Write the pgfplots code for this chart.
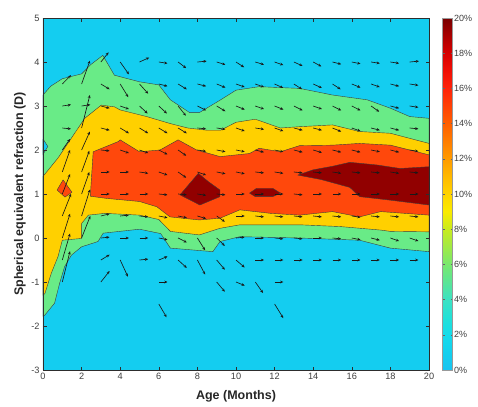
\documentclass[border=0pt]{standalone}
\usepackage{fontspec}
\setmainfont{Liberation Sans}
\usepackage{pgfplots}
\usepackage{pgfplotstable}
\pgfplotsset{compat=1.18}
\usetikzlibrary{arrows.meta}
\definecolor{cbg}{RGB}{20,205,240}
\definecolor{cgreen}{RGB}{105,235,135}
\definecolor{cyellow}{RGB}{255,208,0}
\definecolor{corange}{RGB}{255,72,12}
\definecolor{cdark}{RGB}{145,0,0}
\definecolor{edgec}{RGB}{60,60,60}
\definecolor{axgray}{RGB}{45,45,45}

\pgfplotstableread{
x y u v
3 4 0.40 0.22
4 4 0.45 -0.28
5 4 0.50 0.10
6 4 0.45 -0.03
7 4 0.42 -0.14
8 4 0.48 0.02
9 4 0.45 -0.06
10 4 0.42 -0.12
11 4 0.45 -0.06
12 4 0.45 -0.07
13 4 0.45 -0.09
14 4 0.42 -0.10
15 4 0.45 -0.05
16 4 0.45 -0.04
17 4 0.45 -0.03
18 4 0.45 -0.03
19 4 0.48 0.02
1 3.5 0.45 0.20
2 3.5 0.43 0.53
3 3.5 0.45 -0.12
4 3.5 0.42 -0.30
5 3.5 0.45 -0.22
6 3.5 0.45 -0.05
7 3.5 0.45 -0.12
8 3.5 0.45 -0.05
9 3.5 0.45 -0.08
10 3.5 0.45 -0.07
11 3.5 0.45 -0.07
12 3.5 0.45 -0.09
13 3.5 0.42 -0.12
14 3.5 0.45 -0.09
15 3.5 0.42 -0.12
16 3.5 0.45 -0.08
17 3.5 0.45 -0.07
18 3.5 0.45 -0.05
19 3.5 0.45 -0.03
1 3 0.45 0.03
2 3 0.45 0.03
3 3 0.45 -0.05
4 3 0.45 -0.07
5 3 0.42 -0.17
6 3 0.42 -0.17
7 3 0.40 -0.22
8 3 0.45 -0.10
9 3 0.45 -0.12
10 3 0.45 -0.08
11 3 0.45 -0.07
12 3 0.45 -0.08
13 3 0.45 -0.10
14 3 0.45 -0.07
15 3 0.45 -0.10
16 3 0.45 -0.10
17 3 0.42 -0.13
18 3 0.45 -0.05
19 3 0.45 -0.03
1 2.5 0.45 -0.02
2 2.5 0.43 0.75
3 2.5 0.45 -0.05
4 2.5 0.45 -0.12
5 2.5 0.45 -0.12
6 2.5 0.45 -0.12
7 2.5 0.45 -0.12
8 2.5 0.45 -0.02
9 2.5 0.45 -0.03
10 2.5 0.45 -0.07
11 2.5 0.45 -0.03
12 2.5 0.45 -0.07
13 2.5 0.45 -0.05
14 2.5 0.45 -0.05
15 2.5 0.45 -0.08
16 2.5 0.45 -0.07
17 2.5 0.45 -0.05
18 2.5 0.45 -0.05
19 2.5 0.45 -0.02
1 2 0.40 0.25
2 2 0.43 0.42
3 2 0.45 -0.02
4 2 0.45 -0.07
5 2 0.45 -0.07
6 2 0.45 -0.10
7 2 0.42 -0.13
8 2 0.45 -0.03
9 2 0.45 -0.04
10 2 0.45 -0.04
11 2 0.45 -0.05
12 2 0.45 -0.04
13 2 0.45 -0.05
14 2 0.45 -0.06
15 2 0.45 -0.05
16 2 0.45 -0.05
17 2 0.45 -0.04
18 2 0.45 -0.05
19 2 0.45 -0.03
1 1.5 0.40 0.50
2 1.5 0.40 0.48
3 1.5 0.45 0.00
4 1.5 0.45 0.00
5 1.5 0.45 -0.03
6 1.5 0.45 -0.07
7 1.5 0.42 -0.13
8 1.5 0.45 -0.07
9 1.5 0.45 -0.04
10 1.5 0.45 -0.04
11 1.5 0.45 -0.02
12 1.5 0.45 -0.03
13 1.5 0.45 -0.02
14 1.5 0.45 -0.02
15 1.5 0.45 -0.03
16 1.5 0.45 -0.02
17 1.5 0.45 -0.02
18 1.5 0.45 -0.03
19 1.5 0.45 -0.02
1 1 0.40 0.45
2 1 0.40 0.50
3 1 0.45 0.00
4 1 0.45 0.00
5 1 0.45 0.00
6 1 0.45 -0.02
7 1 0.45 -0.02
8 1 0.45 -0.03
9 1 0.45 -0.02
10 1 0.45 0.00
11 1 0.45 0.00
12 1 0.45 0.00
13 1 0.45 -0.02
14 1 0.45 0.00
15 1 0.45 0.00
16 1 0.45 0.00
17 1 0.45 0.00
18 1 0.45 0.00
19 1 0.45 0.00
1 0.5 0.45 0.50
2 0.5 0.43 0.60
3 0.5 0.45 0.05
4 0.5 0.45 0.02
5 0.5 0.45 -0.02
6 0.5 0.45 -0.04
7 0.5 0.45 -0.04
8 0.5 0.45 -0.06
9 0.5 0.42 -0.13
10 0.5 0.45 0.00
11 0.5 0.45 -0.02
12 0.5 0.45 -0.02
13 0.5 0.45 -0.02
14 0.5 0.45 -0.02
15 0.5 0.45 -0.02
16 0.5 0.45 -0.03
17 0.5 0.45 -0.02
18 0.5 0.45 -0.02
19 0.5 0.45 -0.02
1 0 0.40 0.55
2 0 0.45 0.50
3 0 0.45 0.02
4 0 0.45 0.00
5 0 0.45 0.00
6 0 0.45 -0.04
7 0 0.45 -0.10
8 0 0.40 -0.28
9 0 0.42 -0.18
10 0 0.45 0.02
11 0 0.45 0.00
12 0 0.45 -0.02
13 0 0.45 -0.02
14 0 0.45 0.00
15 0 0.45 -0.02
16 0 0.45 -0.04
17 0 0.45 -0.05
18 0 0.45 -0.07
19 0 0.45 -0.07
1 -0.5 0.40 0.60
3 -0.5 0.45 0.12
4 -0.5 0.40 -0.38
5 -0.5 0.45 0.02
6 -0.5 0.45 0.08
7 -0.5 0.45 -0.18
8 -0.5 0.40 -0.33
9 -0.5 0.42 -0.22
10 -0.5 0.45 -0.17
11 -0.5 0.45 0.00
12 -0.5 0.45 0.00
13 -0.5 0.45 0.00
14 -0.5 0.45 0.00
15 -0.5 0.45 0.00
16 -0.5 0.45 0.00
17 -0.5 0.45 0.00
18 -0.5 0.45 0.00
19 -0.5 0.45 0.00
1 -1 0.40 0.70
3 -1 0.45 0.25
6 -1 0.45 0.00
9 -1 0.42 -0.22
10 -1 0.45 -0.08
11 -1 0.40 -0.25
12 -1 0.45 0.00
6 -1.5 0.40 -0.30
12 -1.5 0.45 -0.32
}\arrowdata

\begin{document}
\begin{tikzpicture}
\useasboundingbox (0,0) rectangle (478bp,407bp);
\begin{axis}[
  at={(43bp,37bp)}, anchor=south west,
  scale only axis, width=386bp, height=352bp,
  xmin=0, xmax=20, ymin=-3, ymax=5,
  xtick={0,2,...,20}, ytick={-3,-2,...,5},
  axis on top,
  axis line style={axgray, line width=0.5pt},
  tick style={axgray, line width=0.5pt},
  major tick length=3.5bp,
  /pgf/number format/assume math mode=true,
  tick label style={font=\fontsize{9.2bp}{11bp}\selectfont, text=black!75},
  xlabel={Age (Months)},
  ylabel={Spherical equivalent refraction (D)},
  label style={font=\fontsize{12.5bp}{14bp}\selectfont\bfseries, text=black!85},
  xlabel style={at={(axis description cs:0.5,-0.074)}, anchor=center},
  ylabel style={at={(axis description cs:-0.06,0.5)}, anchor=center, rotate=0},
  colormap={jetc}{
    rgb255=(25,195,240) rgb255=(20,208,238) rgb255=(20,220,235)
    rgb255=(35,225,215) rgb255=(60,226,195) rgb255=(90,229,150)
    rgb255=(120,232,110) rgb255=(160,234,70) rgb255=(200,235,30)
    rgb255=(250,235,0) rgb255=(255,212,0) rgb255=(255,185,0)
    rgb255=(255,155,0) rgb255=(255,125,0) rgb255=(255,95,0)
    rgb255=(255,65,5) rgb255=(255,35,10) rgb255=(240,15,5)
    rgb255=(215,0,0) rgb255=(170,0,0) rgb255=(120,0,0)},
  point meta min=0, point meta max=20,
  colorbar,
  colorbar style={
    at={(parent axis.north east)}, anchor=north west, xshift=5bp,
    scale only axis, width=10bp, height=352bp,
    ytick={0,2,...,20},
    yticklabel={\pgfmathprintnumber{\tick}\%},
    /pgf/number format/assume math mode=true,
    yticklabel style={font=\fontsize{9bp}{11bp}\selectfont, text=black!75, inner sep=1.5bp},
    tick align=inside,
    axis line style={black!40, line width=0.4pt},
    tick style={black!60, line width=0.4pt},
    major tick length=2bp,
  },
]
% zero level (background)
\addplot[fill=cbg, draw=none] coordinates {(0,-3) (20,-3) (20,5) (0,5) (0,-3)};
% green level
\addplot[fill=cgreen, draw=edgec, line width=0.4pt] coordinates {
(0,3.25) (0.4,3.45) (1,3.62) (2,3.73) (2.5,3.95) (3.1,4.15) (3.7,3.7) (5,3.55) (6,3.48) (6.6,3.14) (7.6,2.85) (8.1,2.85) (9.2,3.14) (10,3.36) (11.2,3.44) (12.2,3.42) (13.3,3.4) (15,3.25) (16.8,3.14) (18,2.95) (19,2.76) (20,2.72)
(20,-0.31) (18,-0.23) (16.4,-0.05) (13.3,0.0) (10.2,0.03) (9.17,-0.08) (8.8,-0.31) (6.6,-0.23) (6.1,0.1) (5,0.2) (3.12,0.11) (2.85,-0.08) (2,-0.2) (1.47,-0.39) (1.12,-0.65) (0.86,-1.03) (0.6,-1.48) (0.1,-1.75) (0,-1.78) (0,3.25)};
% cyan notch at left edge
\addplot[fill=cbg, draw=edgec, line width=0.4pt] coordinates {(0,2.25) (0.25,2.08) (0,1.9) (0,2.25)};
% yellow level
\addplot[fill=cyellow, draw=edgec, line width=0.4pt] coordinates {
(0,1.4) (0.78,1.82) (1.47,2.27) (2.16,2.72) (3.02,3.02) (3.71,2.98) (4,2.91) (5.37,2.76) (6.6,2.6) (7.5,2.5) (8.5,2.45) (9.2,2.45) (10,2.63) (11,2.7) (12.3,2.5) (13.3,2.53) (15,2.57) (16.4,2.42) (18,2.38) (20,2.15)
(20,0.14) (18,0.15) (17.5,0.18) (15.4,0.26) (13.3,0.3) (10.2,0.3) (9.17,0.22) (8.1,0.07) (6.6,0.15) (6.0,0.42) (5,0.52) (3.2,0.56) (2.35,0.52) (2.0,0.33) (2.0,-0.01) (1.0,-0.05) (0.78,-0.42) (0.43,-0.8) (0.1,-1.26) (0,-1.3) (0,1.4)};
% orange level
\addplot[fill=corange, draw=edgec, line width=0.4pt] coordinates {
(2.6,1.96) (3.89,2.19) (4,2.23) (5,1.96) (6.06,2.0) (7,2.23) (7.96,2.0) (9.17,1.85) (10.7,1.92) (11.2,2.04) (12.3,1.96) (13.3,2.1) (15,2.11) (16.4,2.15) (18,2.11) (20,1.89)
(20,0.52) (17.5,0.6) (16.4,0.48) (15,0.6) (13.3,0.52) (11.8,0.56) (10.2,0.64) (9.17,0.45) (8.1,0.41) (6.58,0.48) (5.9,0.71) (5,0.83) (3.3,0.9) (2.45,0.95) (2.6,1.96)};
\addplot[fill=corange, draw=edgec, line width=0.4pt] coordinates {(0.73,1.09) (1.04,1.32) (1.5,1.04) (1.14,0.93) (0.73,1.09)};
% dark red level
\addplot[fill=cdark, draw=edgec, line width=0.4pt] coordinates {(8.05,1.47) (8.57,1.28) (9.17,1.09) (9.17,0.94) (8.13,0.75) (7.1,0.98) (8.05,1.47)};
\addplot[fill=cdark, draw=edgec, line width=0.4pt] coordinates {(10.7,1.02) (11.07,1.13) (11.9,1.13) (12.3,1.02) (11.9,0.94) (11.0,0.94) (10.7,1.02)};
\addplot[fill=cdark, draw=edgec, line width=0.4pt] coordinates {
(13.2,1.43) (14,1.55) (15,1.63) (15.9,1.72) (17.3,1.66) (18.5,1.58) (20,1.62) (20,0.75) (18,0.86) (16.4,0.94) (15.9,1.15) (14.4,1.33) (13.2,1.43)};
% arrows
\addplot[black!90, line width=0.65pt, -{Stealth[length=3.2pt,width=2.8pt]},
  quiver={u=\thisrow{u}, v=\thisrow{v}}] table[x=x, y=y] {\arrowdata};
\end{axis}
\end{tikzpicture}
\end{document}
